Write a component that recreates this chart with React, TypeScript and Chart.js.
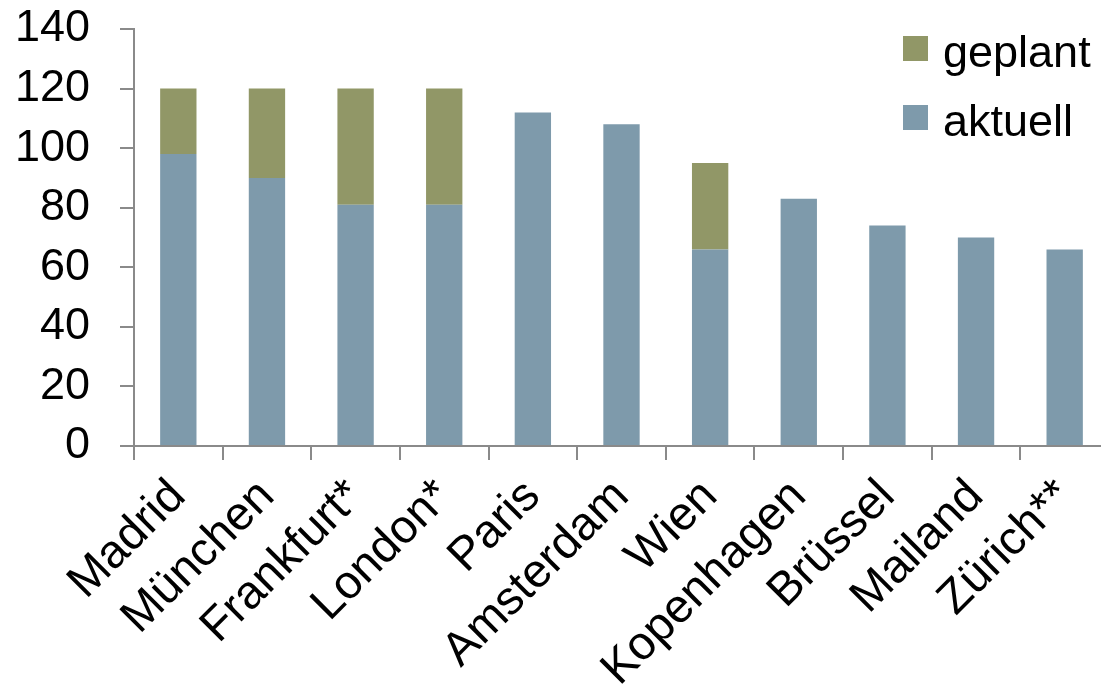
import React, { useEffect, useRef } from "react";
import { Chart, registerables } from "chart.js";

Chart.register(...registerables);

const categories = ["Madrid", "München", "Frankfurt*", "London*", "Paris", "Amsterdam", "Wien", "Kopenhagen", "Brüssel", "Mailand", "Zürich**"];
const aktuell = [98, 90, 81, 81, 112, 108, 66, 83, 74, 70, 66];
const geplant = [22, 30, 39, 39, null, null, 29, null, null, null, null];
const yTicks = [0, 20, 40, 60, 80, 100, 120, 140];

const FONT = '"Liberation Sans", Arial, sans-serif';
const AXIS = "#8a8a8a";

const legendPlugin = {
  id: "customLegend",
  afterDraw(chart: any) {
    const ctx = chart.ctx;
    const items = [
      { ds: chart.data.datasets[1], boxTop: 36, baseline: 67 },
      { ds: chart.data.datasets[0], boxTop: 105, baseline: 136 },
    ];
    ctx.save();
    ctx.font = `45px ${FONT}`;
    ctx.textBaseline = "alphabetic";
    ctx.textAlign = "left";
    for (const it of items) {
      ctx.fillStyle = it.ds.backgroundColor;
      ctx.fillRect(903, it.boxTop, 25, 25);
      ctx.fillStyle = "#000";
      ctx.fillText(it.ds.label, 943, it.baseline);
    }
    ctx.restore();
  },
};

export default function App() {
  const ref = useRef<HTMLCanvasElement>(null);
  useEffect(() => {
    if (!ref.current) return;
    const chart = new Chart(ref.current, {
      type: "bar",
      data: {
        labels: categories,
        datasets: [
          { label: "aktuell", data: aktuell, backgroundColor: "#7E9AAB", barPercentage: 0.41, categoryPercentage: 1 },
          { label: "geplant", data: geplant as any, backgroundColor: "#919767", barPercentage: 0.41, categoryPercentage: 1 },
        ],
      },
      options: {
        animation: false,
        responsive: false,
        devicePixelRatio: 1,
        layout: { padding: { top: 29, left: 0, right: 0, bottom: 0 } },
        plugins: { legend: { display: false }, tooltip: { enabled: false } },
        scales: {
          x: {
            stacked: true,
            offset: true,
            grid: { offset: true, drawOnChartArea: false, drawTicks: true, tickLength: 14, color: AXIS, lineWidth: 2 },
            border: { color: AXIS, width: 2 },
            ticks: {
              autoSkip: false,
              maxRotation: 45,
              minRotation: 45,
              padding: 9,
              color: "#000",
              font: { family: FONT, size: 47 },
            },
            afterFit: (s: any) => { s.height = 247; s.paddingLeft = 0; s.paddingRight = 0; },
          },
          y: {
            stacked: true,
            min: 0,
            max: 140,
            afterBuildTicks: (s: any) => { s.ticks = yTicks.map((v) => ({ value: v })); },
            grid: { drawOnChartArea: false, drawTicks: true, tickLength: 14, color: AXIS, lineWidth: 2 },
            border: { color: AXIS, width: 2 },
            ticks: { autoSkip: false, padding: 30, color: "#000", font: { family: FONT, size: 45 } },
            afterFit: (s: any) => { s.width = 134; s.paddingTop = 0; s.paddingBottom = 0; },
          },
        },
      },
      plugins: [legendPlugin],
    });
    return () => chart.destroy();
  }, []);
  return (
    <div style={{ position: "fixed", left: 0, top: 0, width: 1101, height: 693, overflow: "hidden", background: "#fff" }}>
      <canvas ref={ref} width={1109} height={693} style={{ width: 1109, height: 693, display: "block" }} />
    </div>
  );
}
